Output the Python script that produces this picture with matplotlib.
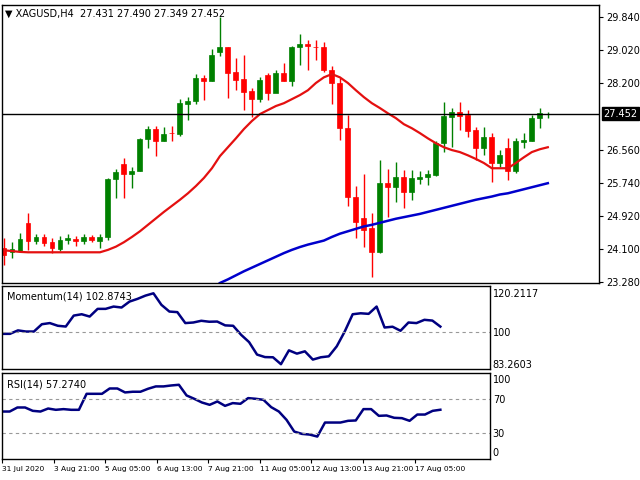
import numpy as np
import matplotlib
matplotlib.use('Agg')
import matplotlib.pyplot as plt

# XAGUSD H4 candles
opens = [24.12, 24.02, 24.05, 24.74, 24.29, 24.39, 24.27, 24.10, 24.32, 24.34, 24.29, 24.39, 24.29, 24.39,
         25.83, 26.20, 25.95, 26.03, 26.82, 27.07, 26.77, 26.97, 26.94, 27.69, 27.76, 28.33, 28.26, 28.97,
         29.10, 28.48, 28.30, 28.01, 27.81, 28.40, 27.96, 28.45, 28.26, 29.10, 29.17, 29.10, 29.10, 28.53,
         28.21, 27.09, 25.38, 24.86, 24.62, 24.02, 25.73, 25.63, 25.88, 25.51, 25.83, 25.88, 25.93, 26.72,
         27.36, 27.49, 27.41, 27.04, 26.60, 26.87, 26.23, 26.60, 26.03, 26.75, 26.77, 27.34, 27.431]
closes = [23.95, 24.10, 24.34, 24.29, 24.39, 24.25, 24.12, 24.32, 24.37, 24.29, 24.39, 24.32, 24.39, 25.83,
          26.00, 25.95, 26.03, 26.82, 27.07, 26.77, 26.94, 26.96, 27.71, 27.76, 28.33, 28.26, 28.90, 29.10,
          28.45, 28.28, 27.98, 27.81, 28.28, 27.96, 28.45, 28.26, 29.10, 29.17, 29.12, 29.09, 28.53, 28.21,
          27.09, 25.38, 24.77, 24.57, 24.02, 25.73, 25.63, 25.88, 25.51, 25.85, 25.88, 25.95, 26.72, 27.39,
          27.49, 27.39, 27.02, 26.60, 26.87, 26.23, 26.42, 26.03, 26.77, 26.79, 27.34, 27.46, 27.452]
highs = [24.37, 24.27, 24.49, 24.99, 24.47, 24.47, 24.37, 24.42, 24.47, 24.42, 24.47, 24.44, 24.47, 25.85,
         26.08, 26.35, 26.13, 26.84, 27.14, 27.14, 27.12, 27.14, 27.81, 27.86, 28.43, 28.40, 29.05, 29.84,
         29.10, 28.82, 28.90, 28.08, 28.35, 28.45, 28.53, 28.70, 29.12, 29.42, 29.27, 29.27, 29.22, 28.63,
         28.33, 27.41, 25.66, 25.95, 24.99, 26.30, 26.08, 26.25, 26.05, 26.05, 26.03, 26.05, 26.77, 27.74,
         27.59, 27.74, 27.54, 27.12, 27.12, 26.97, 26.55, 26.84, 26.84, 26.98, 27.41, 27.59, 27.490]
lows = [23.70, 23.87, 24.02, 24.07, 24.22, 24.17, 24.00, 24.05, 24.22, 24.17, 24.22, 24.27, 24.12, 24.32,
        25.36, 25.36, 25.61, 26.03, 26.60, 26.40, 26.77, 26.77, 26.89, 27.29, 27.69, 27.79, 28.26, 28.87,
        27.83, 28.03, 27.54, 27.36, 27.74, 27.79, 28.06, 28.26, 28.13, 28.65, 28.53, 28.77, 28.48, 27.69,
        26.79, 25.16, 24.37, 24.15, 23.40, 24.00, 24.89, 25.26, 25.11, 25.31, 25.71, 25.68, 25.90, 26.50,
        26.62, 27.04, 26.87, 26.30, 26.42, 25.76, 26.13, 25.80, 25.98, 26.60, 26.77, 27.09, 27.349]

# fast moving average (red), one value per candle
red_ma = [24.07, 24.05, 24.03, 24.02, 24.02, 24.02, 24.02, 24.02, 24.02, 24.02, 24.02, 24.02, 24.02,
          24.08, 24.16, 24.27, 24.40, 24.54, 24.70, 24.86, 25.02, 25.17, 25.32, 25.48, 25.66, 25.86, 26.10,
          26.40, 26.62, 26.84, 27.07, 27.27, 27.44, 27.54, 27.64, 27.71, 27.81, 27.91, 28.03, 28.21, 28.35,
          28.43, 28.35, 28.21, 28.03, 27.86, 27.71, 27.59, 27.46, 27.34, 27.19, 27.09, 26.97, 26.84, 26.72,
          26.62, 26.55, 26.50, 26.42, 26.33, 26.23, 26.10, 26.10, 26.10, 26.23, 26.37, 26.50, 26.57, 26.62]

# slow moving average (blue), visible from candle 27 on
blue_start = 27
blue_ma = [23.26, 23.35, 23.45, 23.55, 23.64, 23.73, 23.82, 23.91, 24.00, 24.08, 24.15, 24.21, 24.26, 24.31,
           24.40, 24.48, 24.54, 24.60, 24.66, 24.70, 24.75, 24.80, 24.85, 24.89, 24.93, 24.97, 25.02, 25.07,
           25.12, 25.17, 25.22, 25.27, 25.32, 25.36, 25.40, 25.45, 25.48, 25.53, 25.58, 25.63, 25.68, 25.73]

momentum = [99.1, 99.1, 100.9, 100.3, 100.3, 104.1, 104.7, 103.3, 102.9, 108.6, 109.3, 108.1, 112.1, 112.1,
            113.3, 112.8, 115.9, 117.3, 119.0, 120.2, 114.2, 110.7, 110.4, 104.7, 105.0, 105.9, 105.4, 105.5,
            103.5, 103.3, 98.6, 94.8, 88.3, 87.0, 86.9, 83.3, 90.5, 88.8, 90.0, 85.7, 86.9, 87.4, 92.6, 100.3,
            109.3, 109.8, 109.5, 113.3, 102.4, 102.8, 100.7, 105.0, 104.7, 106.4, 106.0, 102.87]

rsi = [55.2, 55.2, 59.9, 59.9, 56.0, 55.2, 58.7, 57.2, 58.0, 57.2, 57.2, 75.8, 75.8, 75.8, 82.0, 82.0,
       77.4, 78.2, 78.2, 81.7, 84.4, 84.4, 85.5, 86.3, 73.9, 70.0, 65.7, 63.0, 66.9, 61.8, 65.0, 64.2,
       70.8, 70.0, 68.8, 60.3, 55.2, 45.5, 31.9, 29.2, 28.4, 26.1, 42.4, 42.4, 42.4, 44.4, 44.8, 58.0,
       58.0, 50.2, 50.6, 47.9, 47.5, 44.4, 51.7, 51.7, 56.0, 57.27]

date_labels = ['31 Jul 2020', '3 Aug 21:00', '5 Aug 05:00', '6 Aug 13:00', '7 Aug 21:00',
               '11 Aug 05:00', '12 Aug 13:00', '13 Aug 21:00', '17 Aug 05:00']
price_ticks = [29.84, 29.02, 28.20, 26.56, 25.74, 24.92, 24.10, 23.28]

W, H = 640, 480
fig = plt.figure(figsize=(6.4, 4.8), dpi=100)


def box(x0, y0, x1, y1):
    # pixel box (top-left origin) -> figure axes
    return fig.add_axes([x0 / W, 1 - y1 / H, (x1 - x0) / W, (y1 - y0) / H])


fs = 7
ax = box(2, 5, 599, 283)
n = len(opens)
xs = np.arange(n)
for i in range(n):
    c = '#008000' if closes[i] >= opens[i] else '#ff0000'
    ax.vlines(xs[i], lows[i], highs[i], color=c, lw=1)
    lo, hi = min(opens[i], closes[i]), max(opens[i], closes[i])
    ax.bar(xs[i], max(hi - lo, 0.015), bottom=lo, width=0.62, color=c, edgecolor=c, lw=0.5)
ax.plot(xs, red_ma, color='#e41010', lw=1.6)
ax.plot(xs[blue_start:], blue_ma, color='#0000cc', lw=1.8)
ax.axhline(closes[-1], color='black', lw=1)
ax.set_xlim(-0.25, 74.4)
ax.set_ylim(23.26, 30.14)
ax.set_xticks([])
ax.yaxis.tick_right()
ax.set_yticks(price_ticks)
ax.set_yticklabels(['%.3f' % v for v in price_ticks], fontsize=fs)
ax.tick_params(axis='y', length=3, pad=2)
ax.text(1.007, (closes[-1] - 23.26) / (30.14 - 23.26), '%.3f' % closes[-1], transform=ax.transAxes,
        fontsize=fs, color='white', va='center', ha='left',
        bbox=dict(facecolor='black', edgecolor='black', pad=1.2))
ax.text(0.005, 0.985, '▼ XAGUSD,H4  27.431 27.490 27.349 27.452', transform=ax.transAxes,
        fontsize=fs, va='top', ha='left')

ax2 = box(2, 286, 490, 369)
ax2.plot(np.linspace(0, 68, len(momentum)), momentum, color='#000080', lw=1.8)
ax2.axhline(100, color='#999999', lw=0.8, ls=(0, (3, 3)))
ax2.set_xlim(0, 75.7)
ax2.set_ylim(80.8, 124.0)
ax2.set_xticks([])
ax2.yaxis.tick_right()
ax2.set_yticks([120.2117, 100, 83.2603])
ax2.set_yticklabels(['120.2117', '100', '83.2603'], fontsize=fs)
ax2.tick_params(axis='y', length=0, pad=2)
ax2.text(0.01, 0.93, 'Momentum(14) 102.8743', transform=ax2.transAxes, fontsize=fs, va='top')

ax3 = box(2, 373, 490, 459)
ax3.plot(np.linspace(0, 68, len(rsi)), rsi, color='#000080', lw=1.8)
for lv in (70, 30):
    ax3.axhline(lv, color='#999999', lw=0.8, ls=(0, (3, 3)))
ax3.set_xlim(0, 75.7)
ax3.set_ylim(0, 100)
ax3.yaxis.tick_right()
ax3.set_yticks([93, 70, 30, 8])
ax3.set_yticklabels(['100', '70', '30', '0'], fontsize=fs)
ax3.tick_params(axis='y', length=0, pad=2)
ax3.set_xticks(np.arange(0, 65, 8))
ax3.set_xticklabels(date_labels, fontsize=5.4, ha='left')
ax3.tick_params(axis='x', length=3, pad=2)
ax3.text(0.01, 0.93, 'RSI(14) 57.2740', transform=ax3.transAxes, fontsize=fs, va='top')

for a in (ax, ax2, ax3):
    for s in a.spines.values():
        s.set_linewidth(1)

fig.savefig('out.png', dpi=100)
